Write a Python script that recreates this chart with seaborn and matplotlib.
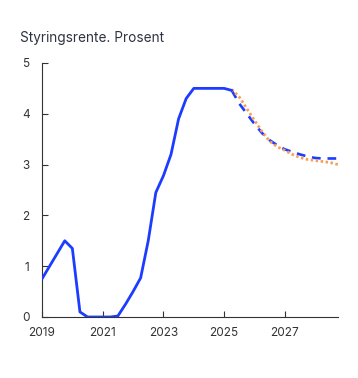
import matplotlib
matplotlib.use("Agg")
import matplotlib.pyplot as plt
import seaborn as sns
import numpy as np
import pandas as pd

# Styringsrente, kvartalsvis (historikk + to prognosebaner)
hist_quarters = ['2019Q1', '2019Q2', '2019Q3', '2019Q4', '2020Q1', '2020Q2', '2020Q3', '2020Q4',
                 '2021Q1', '2021Q2', '2021Q3', '2021Q4', '2022Q1', '2022Q2', '2022Q3', '2022Q4',
                 '2023Q1', '2023Q2', '2023Q3', '2023Q4', '2024Q1', '2024Q2', '2024Q3', '2024Q4',
                 '2025Q1', '2025Q2']
hist_rate = [0.75, 1.0, 1.25, 1.5, 1.35, 0.1, 0.0, 0.0,
             0.0, 0.0, 0.02, 0.25, 0.5, 0.77, 1.5, 2.45,
             2.78, 3.2, 3.9, 4.3, 4.5, 4.5, 4.5, 4.5,
             4.5, 4.46]

proj_quarters = ['2025Q2', '2025Q3', '2025Q4', '2026Q1', '2026Q2', '2026Q3', '2026Q4',
                 '2027Q1', '2027Q2', '2027Q3', '2027Q4', '2028Q1', '2028Q2', '2028Q3', '2028Q4']
proj_new = [4.46, 4.2, 4.0, 3.8, 3.62, 3.48, 3.38, 3.3, 3.25, 3.2, 3.16, 3.13, 3.12, 3.12, 3.12]
proj_old = [4.48, 4.33, 4.1, 3.87, 3.65, 3.46, 3.35, 3.28, 3.2, 3.14, 3.1, 3.08, 3.06, 3.04, 3.0]

x_ticks = [2019, 2021, 2023, 2025, 2027]
y_ticks = [0, 1, 2, 3, 4, 5]


def to_year(q):
    # '2019Q1' -> 2019.0
    return int(q[:4]) + (int(q[-1]) - 1) * 0.25


df_hist = pd.DataFrame({'aar': [to_year(q) for q in hist_quarters], 'rente': hist_rate})
df_new = pd.DataFrame({'aar': [to_year(q) for q in proj_quarters], 'rente': proj_new})
df_old = pd.DataFrame({'aar': [to_year(q) for q in proj_quarters], 'rente': proj_old})

sns.set_style('ticks')
plt.rcParams['font.family'] = ['Inter', 'DejaVu Sans']

blue = '#1c3cff'
orange = '#f5a05a'

fig = plt.figure(figsize=(3.58, 3.78), dpi=100)
ax = fig.add_axes([0.1173, 0.1614, 0.8267, 0.672])

sns.lineplot(data=df_new, x='aar', y='rente', ax=ax, color=blue, linewidth=1.9,
             linestyle=(0, (3.3, 2.6)), zorder=2)
sns.lineplot(data=df_old, x='aar', y='rente', ax=ax, color=orange, linewidth=2.0,
             linestyle=(0, (0.9, 0.9)), zorder=3)
sns.lineplot(data=df_hist, x='aar', y='rente', ax=ax, color=blue, linewidth=2.0, zorder=4)

ax.set_xlim(2019, 2028.75)
ax.set_ylim(0, 5)
ax.set_xticks(x_ticks)
ax.set_yticks(y_ticks)
ax.set_xlabel('')
ax.set_ylabel('')
ax.tick_params(axis='both', direction='in', length=4, width=0.8, colors='#333333',
               labelsize=8.5, labelcolor='#333333')
ax.tick_params(axis='x', pad=7)
ax.tick_params(axis='y', pad=9)
for s in ['top', 'right']:
    ax.spines[s].set_visible(False)
for s in ['left', 'bottom']:
    ax.spines[s].set_color('#333333')
    ax.spines[s].set_linewidth(0.8)

fig.text(20 / 358, 1 - 38 / 378, 'Styringsrente. Prosent', fontsize=9.8, color='#2e3440',
         va='center', ha='left')

fig.savefig('out.png', dpi=100)
